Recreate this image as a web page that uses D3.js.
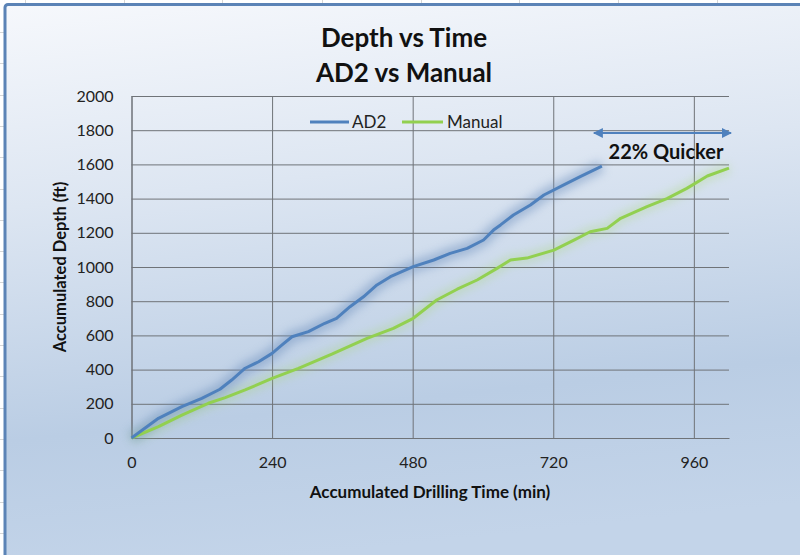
<!DOCTYPE html>
<html><head><meta charset="utf-8">
<script src="https://cdn.jsdelivr.net/npm/d3@7"></script>
<style>
html,body{margin:0;padding:0;background:#fff;}
svg{display:block;font-family:Lato,"Open Sans",sans-serif;}
</style></head>
<body>
<svg id="c" width="800" height="555"></svg>
<script>
// ---- data ----
const ad2Time  = [0,46,86,120,151,171,194,217,240,257,274,302,330,350,373,396,419,442,481,516,544,573,601,618,630,652,681,704,738,766,803];
const ad2Depth = [0,115,183,232,285,339,408,446,495,544,592,622,671,700,768,826,895,943,1002,1041,1080,1109,1158,1216,1246,1304,1363,1421,1480,1528,1590];
const manTime  = [0,46,86,131,160,194,240,285,342,402,447,481,521,556,590,624,647,675,721,757,783,812,835,880,914,948,983,1020];
const manDepth = [0,66,134,203,236,281,349,407,490,583,641,700,807,870,924,992,1041,1052,1099,1160,1206,1226,1285,1353,1400,1460,1532,1578];
const xTicks = [0,240,480,720,960];
const yTicks = [0,200,400,600,800,1000,1200,1400,1600,1800,2000];
const seriesNames = ["AD2","Manual"];
const titleLines = ["Depth vs Time","AD2 vs Manual"];
const annotation = "22% Quicker";

const svg = d3.select("#c");
const defs = svg.append("defs");
const grad = defs.append("linearGradient").attr("id","bg").attr("x1",0).attr("y1",0).attr("x2",0.15).attr("y2",1);
grad.append("stop").attr("offset","0%").attr("stop-color","#f6f8fc");
grad.append("stop").attr("offset","35%").attr("stop-color","#dde6f2");
grad.append("stop").attr("offset","75%").attr("stop-color","#bacde4");
grad.append("stop").attr("offset","100%").attr("stop-color","#c3d4e9");
const glow = defs.append("filter").attr("id","glow").attr("x","-20%").attr("y","-20%").attr("width","140%").attr("height","140%");
glow.append("feGaussianBlur").attr("stdDeviation",5);
const mk = defs.append("marker").attr("id","arr").attr("viewBox","0 0 10 10").attr("refX",9).attr("refY",5)
  .attr("markerWidth",5).attr("markerHeight",5).attr("orient","auto-start-reverse").attr("markerUnits","strokeWidth");
mk.append("path").attr("d","M0,0L10,5L0,10Z").attr("fill","#4f81bd");

// spreadsheet grid outside chart
const gridG = svg.append("g").attr("stroke","#d6d6d6").attr("stroke-width",1);
[25,124,222,322,421,519,618,717].forEach(x=>gridG.append("line").attr("x1",x+0.5).attr("x2",x+0.5).attr("y1",0).attr("y2",4));
d3.range(32,555,31.3).forEach(y=>gridG.append("line").attr("x1",0).attr("x2",4).attr("y1",Math.round(y)+0.5).attr("y2",Math.round(y)+0.5));

// chart area
svg.append("rect").attr("x",5).attr("y",4.5).attr("width",810).attr("height",570).attr("rx",3)
  .attr("fill","url(#bg)").attr("stroke","#5b83b6").attr("stroke-width",3);

const x = d3.scaleLinear().domain([0,1020]).range([131.5,729]);
const y = d3.scaleLinear().domain([0,2000]).range([438,96]);
const fmt = d3.format("d");

// gridlines
const gx = svg.append("g").attr("transform","translate(0,438)")
  .call(d3.axisBottom(x).tickValues(xTicks).tickSize(-342).tickFormat(""));
gx.select(".domain").remove();
gx.selectAll("line").attr("stroke","#6f7378");
const gy = svg.append("g").attr("transform","translate(131.5,0)")
  .call(d3.axisLeft(y).tickValues(yTicks).tickSize(-597.5).tickFormat(""));
gy.select(".domain").remove();
gy.selectAll("line").attr("stroke","#6f7378");

// axes labels
const ax = svg.append("g").attr("transform","translate(0,438)")
  .call(d3.axisBottom(x).tickValues(xTicks).tickFormat(fmt).tickSize(0).tickPadding(19));
ax.select(".domain").attr("stroke","#6f7378");
ax.selectAll("text").attr("font-size",16).attr("fill","#222").attr("font-family","Lato,sans-serif");
const ay = svg.append("g").attr("transform","translate(131.5,0)")
  .call(d3.axisLeft(y).tickValues(yTicks).tickFormat(fmt).tickSize(0).tickPadding(18));
ay.select(".domain").attr("stroke","#6f7378");
ay.selectAll("text").attr("font-size",16).attr("fill","#222").attr("font-family","Lato,sans-serif");

// lines
const line = d3.line().x(d=>x(d[0])).y(d=>y(d[1]));
const ad2 = ad2Time.map((t,i)=>[t,ad2Depth[i]]);
const man = manTime.map((t,i)=>[t,manDepth[i]]);
const plotG = svg.append("g");
plotG.append("path").datum(man).attr("d",line).attr("fill","none").attr("stroke","#a8d870").attr("stroke-width",9).attr("opacity",0.35).attr("filter","url(#glow)");
plotG.append("path").datum(ad2).attr("d",line).attr("fill","none").attr("stroke","#6d8fbd").attr("stroke-width",12).attr("opacity",0.5).attr("filter","url(#glow)");
plotG.append("path").datum(man).attr("d",line).attr("fill","none").attr("stroke","#92d050").attr("stroke-width",3).attr("stroke-linejoin","round");
plotG.append("path").datum(ad2).attr("d",line).attr("fill","none").attr("stroke","#4f81bd").attr("stroke-width",3).attr("stroke-linejoin","round");

// legend
const leg = svg.append("g").attr("font-size",17).attr("fill","#222");
leg.append("line").attr("x1",310).attr("x2",349).attr("y1",122).attr("y2",122).attr("stroke","#4f81bd").attr("stroke-width",3);
leg.append("text").attr("x",352).attr("y",128).text(seriesNames[0]);
leg.append("line").attr("x1",402).attr("x2",443).attr("y1",122).attr("y2",122).attr("stroke","#92d050").attr("stroke-width",3);
leg.append("text").attr("x",447).attr("y",128).text(seriesNames[1]);

// annotation
svg.append("line").attr("x1",x(ad2Time[ad2Time.length-1])-8).attr("x2",x(manTime[manTime.length-1])+2)
  .attr("y1",133).attr("y2",133).attr("stroke","#4f81bd").attr("stroke-width",2)
  .attr("marker-start","url(#arr)").attr("marker-end","url(#arr)");
svg.append("text").attr("x",666).attr("y",159).attr("text-anchor","middle").attr("font-size",20).attr("font-weight","bold").attr("fill","#111").text(annotation);

// titles
svg.append("text").attr("x",404).attr("y",47).attr("text-anchor","middle").attr("font-size",26).attr("font-weight","bold").attr("fill","#111").text(titleLines[0]);
svg.append("text").attr("x",404).attr("y",82).attr("text-anchor","middle").attr("font-size",26).attr("font-weight","bold").attr("fill","#111").text(titleLines[1]);
svg.append("text").attr("x",430).attr("y",498).attr("text-anchor","middle").attr("font-size",17).attr("font-weight","bold").attr("fill","#111").text("Accumulated Drilling Time (min)");
svg.append("text").attr("transform","translate(66,267) rotate(-90)").attr("text-anchor","middle").attr("font-size",16.5).attr("font-weight","bold").attr("fill","#111").text("Accumulated Depth (ft)");
</script>
</body></html>
